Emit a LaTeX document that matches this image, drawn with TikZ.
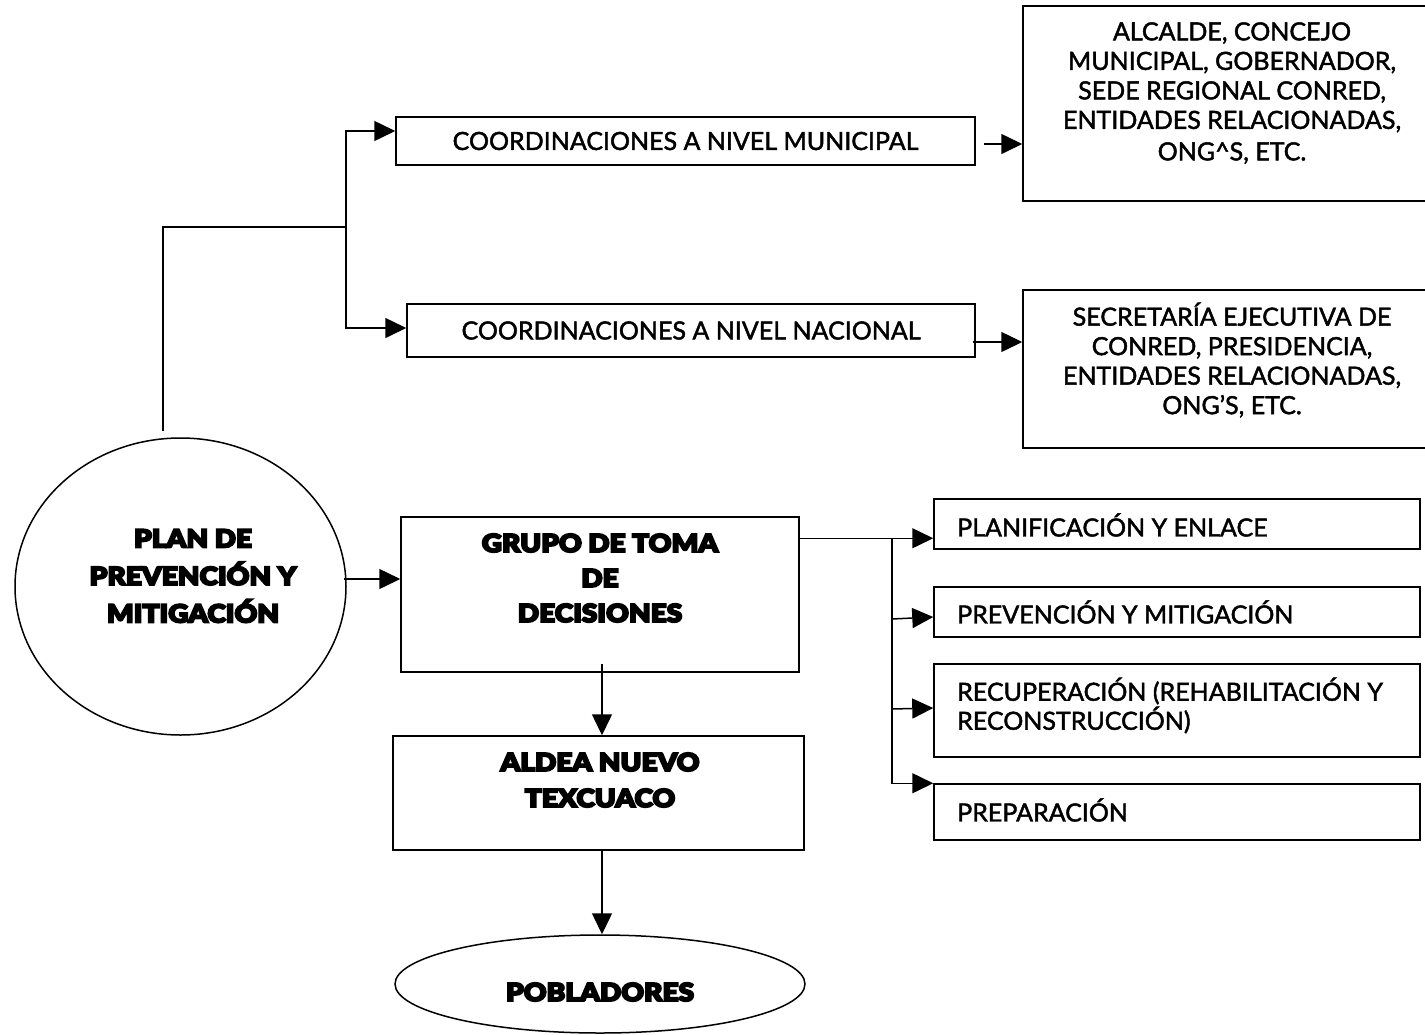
\documentclass[tikz,border=0pt]{standalone}
\usepackage{fontspec}
\setmainfont{Lato}
\font\regfont="Lato:embolden=1.8" at 25pt
\font\heavyfont="Lato Black:embolden=7;extend=1.12" at 25pt
\usetikzlibrary{arrows.meta,shapes.geometric,calc}
\begin{document}
\begin{tikzpicture}[x=1pt,y=-1pt,
 box/.style={draw, line width=1.5pt, rectangle, inner sep=0pt},
 oval/.style={draw, line width=1.5pt, ellipse, inner sep=0pt},
 conn/.style={line width=1.5pt},
 arr/.style={line width=1.5pt, -{Triangle[length=21pt,width=20pt]}},
 reg/.style={font={\regfont\baselineskip=29.5pt}, align=center},
 regl/.style={font={\regfont\baselineskip=29pt}, align=left, anchor=west, inner sep=0pt},
 heavytxt/.style={font={\heavyfont\baselineskip=36pt}, align=center},
]
\useasboundingbox (0,0) rectangle (1425,1034);
\clip (0,0) rectangle (1425,1034);

% main ellipse
\node[oval, minimum width=331pt, minimum height=297pt] (plan) at (180.5,586.5) {};
\node[heavytxt, font={\heavyfont\baselineskip=37.5pt}] (plantext) at (193,576) {PLAN DE\\PREVENCIÓN Y\\MITIGACIÓN};

% coordination boxes
\node[box, reg, minimum width=579pt, minimum height=48pt] (muni) at (685.5,141) {COORDINACIONES A NIVEL MUNICIPAL};
\node[box, reg, minimum width=568pt, minimum height=53pt] (nac) at (691,330.5) {COORDINACIONES A NIVEL NACIONAL};

\node[box, minimum width=417pt, minimum height=195pt] (alc) at (1231.5,103.5) {};
\node[reg] (alctext) at (1232,93) {ALCALDE, CONCEJO\\MUNICIPAL, GOBERNADOR,\\SEDE REGIONAL CONRED,\\ENTIDADES RELACIONADAS,\\[2pt]ONG\^{}S, ETC.};
\node[box, minimum width=417pt, minimum height=158pt] (sec) at (1231.5,369) {};
\node[reg] (sectext) at (1232,360) {SECRETARÍA EJECUTIVA DE\\CONRED, PRESIDENCIA,\\ENTIDADES RELACIONADAS,\\ONG’S, ETC.};

% decision group
\node[box, minimum width=398pt, minimum height=155pt] (grupo) at (600,594.5) {};
\node[heavytxt, font={\heavyfont\baselineskip=35pt}] (grupotext) at (600,578) {GRUPO DE TOMA\\DE\\DECISIONES};
\node[box, minimum width=411pt, minimum height=114pt] (aldea) at (598.5,793) {};
\node[heavytxt] (aldeatext) at (600,780) {ALDEA NUEVO\\TEXCUACO};
\node[oval, minimum width=410pt, minimum height=98pt] (pob) at (600,984) {};
\node[heavytxt] (pobtext) at (600,992) {POBLADORES};

% right boxes
\node[box, minimum width=486pt, minimum height=50pt] (planif) at (1177,524) {};
\node[regl] (planiftext) at (957,525) {PLANIFICACIÓN Y ENLACE};
\node[box, minimum width=486pt, minimum height=50pt] (prev) at (1177,612) {};
\node[regl] (prevtext) at (957,612) {PREVENCIÓN Y MITIGACIÓN};
\node[box, minimum width=486pt, minimum height=93pt] (recup) at (1177,710.5) {};
\node[regl] (recuptext) at (957,705.5) {RECUPERACIÓN (REHABILITACIÓN Y\\RECONSTRUCCIÓN)};
\node[box, minimum width=486pt, minimum height=56pt] (prep) at (1177,812) {};
\node[regl] (preptext) at (957,810) {PREPARACIÓN};

% connectors: ellipse to coordinations
\coordinate (j1) at (346,227);
\draw[conn] ($(plan.north)+(-17.5,-6)$) |- (j1);
\draw[arr] (j1) |- ($(muni.west)+(0,-10)$);
\draw[arr] (j1) |- ($(nac.west)+(0,-2.5)$);
\draw[arr] ($(muni.east)+(8,3)$) coordinate (m1) -- (m1 -| alc.west);
\draw[arr] ($(nac.east)+(-3,11.5)$) coordinate (n1) -- (n1 -| sec.west);

% ellipse to group, group downwards
\draw[arr] ($(plan.east)+(-3,-7.5)$) coordinate (p1) -- (p1 -| grupo.west);
\draw[arr] ($(grupo.south)+(2,-9)$) coordinate (g1) -- (g1 |- aldea.north);
\draw[arr] ($(aldea.south)+(3.5,0)$) coordinate (a1) -- (a1 |- pob.north);

% group to right boxes
\coordinate (g2) at ($(grupo.north east)+(0,22)$);
\coordinate (t1) at (892,539);
\draw[arr] (g2) -- (g2 -| planif.west);
\draw[arr] (t1) |- (prep.north west);
\draw[arr] (892,619) -- ($(prev.west)+(0,5)$);
\draw[arr] (892,709) -- ($(recup.west)+(0,-2.5)$);
\end{tikzpicture}
\end{document}
